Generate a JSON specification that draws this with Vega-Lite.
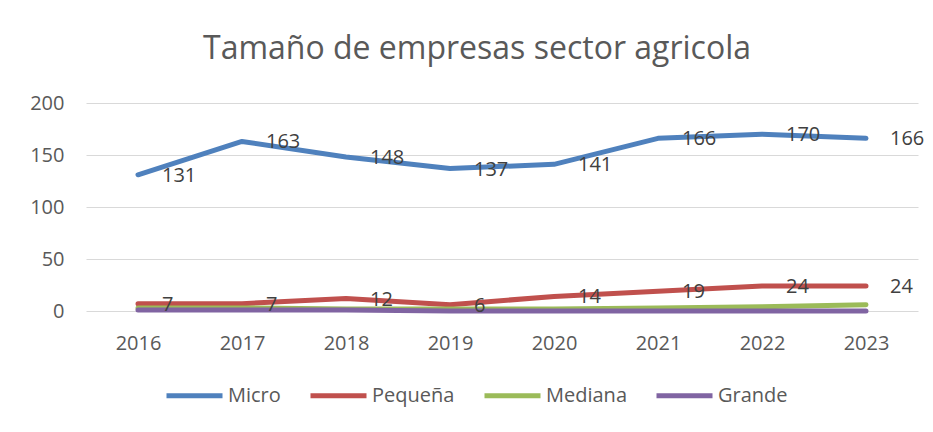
{
  "$schema": "https://vega.github.io/schema/vega-lite/v6.json",
  "autosize": "none",
  "width": 832,
  "height": 208,
  "padding": {"left": 86, "top": 103, "right": 15, "bottom": 121},
  "background": "white",
  "config": {
    "font": "Open Sans",
    "view": {"stroke": null},
    "axis": {"labelFont": "Open Sans", "labelColor": "#595959", "labelFontSize": 20}
  },
  "title": {
    "text": "Tamaño de empresas sector agricola",
    "font": "Open Sans",
    "fontSize": 32,
    "fontWeight": "normal",
    "color": "#595959",
    "anchor": "middle",
    "dx": -25,
    "offset": 27
  },
  "data": {
    "values": [
      {"year": "2016", "serie": "Micro", "value": 131},
      {"year": "2017", "serie": "Micro", "value": 163},
      {"year": "2018", "serie": "Micro", "value": 148},
      {"year": "2019", "serie": "Micro", "value": 137},
      {"year": "2020", "serie": "Micro", "value": 141},
      {"year": "2021", "serie": "Micro", "value": 166},
      {"year": "2022", "serie": "Micro", "value": 170},
      {"year": "2023", "serie": "Micro", "value": 166},
      {"year": "2016", "serie": "Pequeña", "value": 7},
      {"year": "2017", "serie": "Pequeña", "value": 7},
      {"year": "2018", "serie": "Pequeña", "value": 12},
      {"year": "2019", "serie": "Pequeña", "value": 6},
      {"year": "2020", "serie": "Pequeña", "value": 14},
      {"year": "2021", "serie": "Pequeña", "value": 19},
      {"year": "2022", "serie": "Pequeña", "value": 24},
      {"year": "2023", "serie": "Pequeña", "value": 24},
      {"year": "2016", "serie": "Mediana", "value": 3},
      {"year": "2017", "serie": "Mediana", "value": 3},
      {"year": "2018", "serie": "Mediana", "value": 2},
      {"year": "2019", "serie": "Mediana", "value": 2},
      {"year": "2020", "serie": "Mediana", "value": 2},
      {"year": "2021", "serie": "Mediana", "value": 3},
      {"year": "2022", "serie": "Mediana", "value": 4},
      {"year": "2023", "serie": "Mediana", "value": 6},
      {"year": "2016", "serie": "Grande", "value": 1},
      {"year": "2017", "serie": "Grande", "value": 1},
      {"year": "2018", "serie": "Grande", "value": 1},
      {"year": "2019", "serie": "Grande", "value": 0},
      {"year": "2020", "serie": "Grande", "value": 0},
      {"year": "2021", "serie": "Grande", "value": 0},
      {"year": "2022", "serie": "Grande", "value": 0},
      {"year": "2023", "serie": "Grande", "value": 0}
    ]
  },
  "encoding": {
    "x": {
      "field": "year",
      "type": "ordinal",
      "scale": {"type": "point", "padding": 0.5},
      "axis": {"title": null, "labelAngle": 0, "domain": false, "ticks": false, "grid": false, "labelPadding": 22}
    },
    "y": {
      "field": "value",
      "type": "quantitative",
      "scale": {"domain": [0, 200]},
      "axis": {"title": null, "values": [0, 50, 100, 150, 200], "domain": false, "ticks": false, "gridColor": "#D9D9D9", "gridWidth": 1, "labelPadding": 22}
    }
  },
  "layer": [
    {
      "mark": {"type": "line", "strokeWidth": 5, "strokeCap": "round", "strokeJoin": "round"},
      "encoding": {
        "color": {
          "field": "serie",
          "type": "nominal",
          "scale": {"domain": ["Micro", "Pequeña", "Mediana", "Grande"], "range": ["#4F81BD", "#C0504D", "#9BBB59", "#8064A2"]},
          "legend": {
            "title": null,
            "orient": "none",
            "direction": "horizontal",
            "legendX": 78,
            "legendY": 262,
            "symbolType": "stroke",
            "symbolSize": 3136,
            "symbolStrokeWidth": 5,
            "labelFontSize": 20,
            "labelColor": "#595959",
            "labelFont": "Open Sans",
            "labelOffset": 3,
            "columnPadding": 19
          }
        }
      }
    },
    {
      "transform": [{"filter": "datum.serie === 'Micro' || datum.serie === 'Pequeña'"}],
      "mark": {"type": "text", "align": "left", "baseline": "middle", "dx": 24, "dy": 1, "fontSize": 20, "color": "#404040", "font": "Open Sans"},
      "encoding": {"text": {"field": "value", "type": "quantitative"}}
    }
  ]
}
